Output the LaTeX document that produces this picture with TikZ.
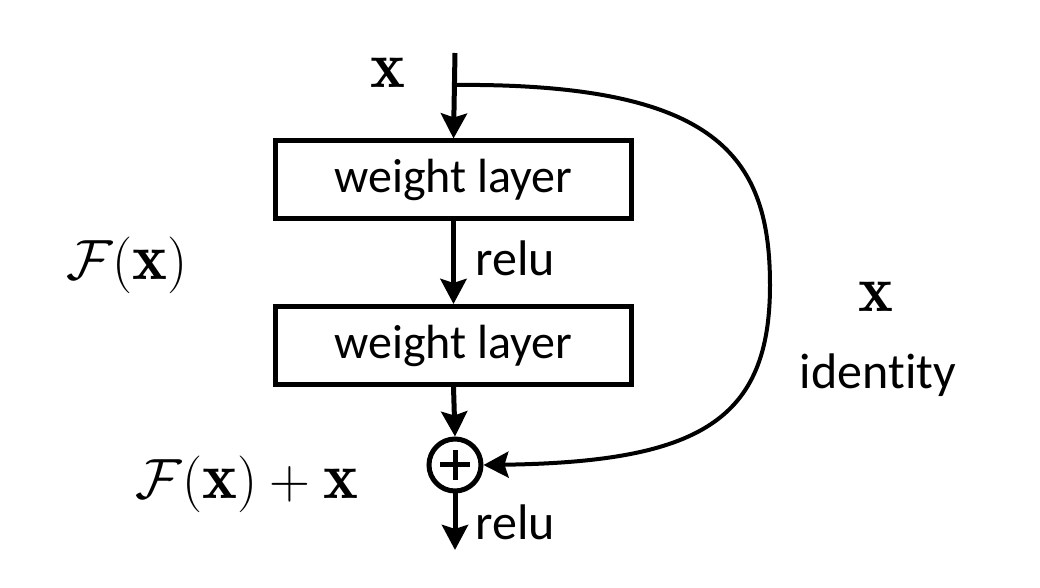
\documentclass[tikz,border=0pt]{standalone}
\usepackage{fontspec}
\newfontfamily\lblfont[Ligatures=NoCommon]{Carlito}
\usetikzlibrary{arrows.meta,calc}
\newcommand{\scaledmath}[1]{\scalebox{1.14}{$#1$}}
\begin{document}
\begin{tikzpicture}[x=0.5pt,y=-0.5pt,
  layerbox/.style={draw,line width=2.5pt,minimum width=178pt,minimum height=39pt,inner sep=0pt,font=\lblfont\fontsize{24}{28}\selectfont},
  conn/.style={line width=2.5pt,-{Stealth[length=12.5pt,width=13pt,inset=2pt]}},
  skip/.style={line width=2pt,-{Stealth[length=12.5pt,width=13pt,inset=2pt]}},
  lbl/.style={font=\lblfont\fontsize{25}{30}\selectfont,inner sep=0pt},
  mth/.style={font=\fontsize{29}{34}\selectfont,inner sep=0pt}]
\useasboundingbox (0,0) rectangle (1040,588);
\coordinate (top) at (455,53);
\coordinate (branch) at (455,85);
\coordinate (out) at (455,550);
\node[layerbox] (w1) at (453.5,180) {weight layer};
\node[layerbox] (w2) at (453.5,345.5) {weight layer};
\node[draw,circle,line width=2.5pt,minimum size=26pt,inner sep=0pt] (plus) at (455,465) {};
\draw[line width=2.5pt] ($(plus.center)+(-15,0)$) -- ($(plus.center)+(15,0)$);
\draw[line width=2.5pt] ($(plus.center)+(0,-15)$) -- ($(plus.center)+(0,15)$);
\draw[conn] (top) -- (w1.north);
\draw[conn] (w1.south) -- (w2.north);
\draw[conn] (w2.south) -- (plus.north);
\draw[conn] (plus.south) -- (out);
\draw[skip] (branch) -- (480,85) .. controls (720,88) and (770,160) .. (770,285) .. controls (770,420) and (700,462) .. (plus.east);
\node[mth] (xin) at (388,73) {\scaledmath{\mathbf{x}}};
\node[mth] (fx) at (127,265) {\scaledmath{\mathcal{F}(\mathbf{x})}};
\node[mth] (fxx) at (247,484) {\scaledmath{\mathcal{F}(\mathbf{x})+\mathbf{x}}};
\node[mth] (xid) at (876,297) {\scaledmath{\mathbf{x}}};
\node[lbl] (idl) at (878,375) {identity};
\node[lbl,anchor=west] (r1) at (475,258) {relu};
\node[lbl,anchor=west] (r2) at (475,522) {relu};
\end{tikzpicture}
\end{document}
